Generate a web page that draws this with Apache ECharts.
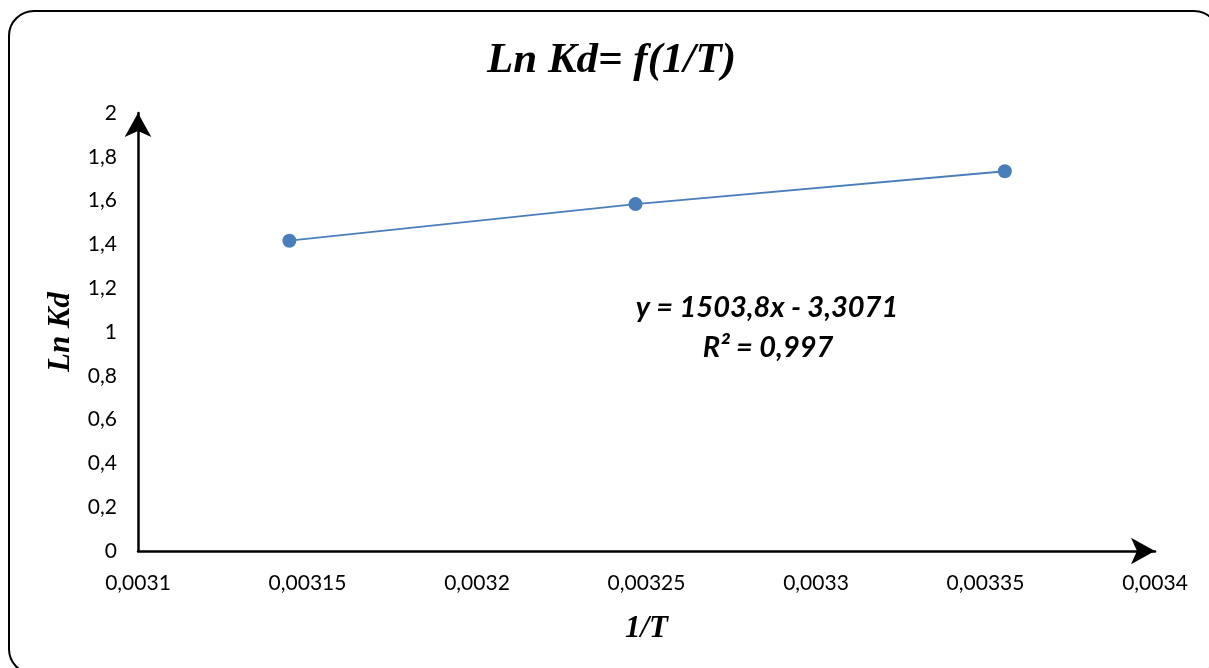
<!DOCTYPE html>
<html>
<head>
<meta charset="utf-8">
<script src="https://cdn.jsdelivr.net/npm/echarts@6/dist/echarts.min.js"></script>
<style>
    html, body { margin: 0; padding: 0; background: #fff; overflow: hidden; }
    #frame {
        position: absolute; left: 8px; top: 10px; width: 1212px; height: 665px;
        border: 2px solid #000; border-radius: 26px; box-sizing: border-box;
    }
    #chart { position: absolute; left: 0; top: 0; width: 1209px; height: 668px; }
</style>
</head>
<body>
<div id="frame"></div>
<div id="chart"></div>
<script>
// 1/T for T = 318, 308, 298 K
let invT = [1 / 318, 1 / 308, 1 / 298];
let lnKd = [1.417, 1.584, 1.734];
let equationText = 'y = 1503,8x - 3,3071';
let r2Text = 'R² = 0,997';

let chart = echarts.init(document.getElementById('chart'));

let comma = function (s) {
    return s.replace('.', ',');
};

// shared style for the trend line label
let eqStyle = {
    fontFamily: 'Lato',
    fontStyle: 'italic',
    fontWeight: 'bold',
    fontSize: 29,
    fill: '#000',
    align: 'center',
    verticalAlign: 'middle'
};

chart.setOption({
    animation: false,
    title: {
        text: 'Ln Kd= f(1/T)',
        left: 482,
        top: 34,
        textStyle: {
            fontFamily: 'Liberation Serif',
            fontStyle: 'italic',
            fontWeight: 'bold',
            fontSize: 43,
            color: '#000'
        }
    },
    grid: {
        left: 138,
        right: 54,
        top: 113,
        bottom: 117
    },
    xAxis: {
        type: 'value',
        min: 0.0031,
        max: 0.0034,
        interval: 0.00005,
        name: '1/T',
        nameLocation: 'middle',
        nameGap: 62,
        nameTextStyle: {
            fontFamily: 'Liberation Serif',
            fontStyle: 'italic',
            fontWeight: 'bold',
            fontSize: 31,
            color: '#000'
        },
        splitLine: { show: false },
        axisTick: { show: false },
        axisLine: {
            onZero: false,
            symbol: ['none', 'arrow'],
            symbolSize: [20, 24],
            lineStyle: { color: '#000', width: 2.5 }
        },
        axisLabel: {
            margin: 22,
            fontFamily: 'Lato',
            fontSize: 21,
            color: '#000',
            formatter: function (v) {
                return comma(v.toFixed(5).replace(/0+$/, ''));
            }
        }
    },
    yAxis: {
        type: 'value',
        min: 0,
        max: 2,
        interval: 0.2,
        name: 'Ln Kd',
        nameLocation: 'middle',
        nameGap: 62,
        nameTextStyle: {
            fontFamily: 'Liberation Serif',
            fontStyle: 'italic',
            fontWeight: 'bold',
            fontSize: 31,
            color: '#000'
        },
        splitLine: { show: false },
        axisTick: { show: false },
        axisLine: {
            show: true,
            symbol: ['none', 'arrow'],
            symbolSize: [20, 24],
            lineStyle: { color: '#000', width: 2.5 }
        },
        axisLabel: {
            margin: 21,
            fontFamily: 'Lato',
            fontSize: 21,
            color: '#000',
            formatter: function (v) {
                return comma(String(+v.toFixed(1)));
            }
        }
    },
    graphic: [{
        type: 'text',
        x: 767,
        y: 308,
        style: Object.assign({ text: equationText }, eqStyle)
    }, {
        type: 'text',
        x: 768,
        y: 348,
        style: Object.assign({ text: r2Text }, eqStyle)
    }],
    series: [{
        type: 'line',
        data: invT.map(function (x, i) { return [x, lnKd[i]]; }),
        symbol: 'circle',
        symbolSize: 14,
        showSymbol: true,
        lineStyle: { color: '#4a7ebb', width: 1.8 },
        itemStyle: { color: '#4a7ebb' }
    }]
});
</script>
</body>
</html>
